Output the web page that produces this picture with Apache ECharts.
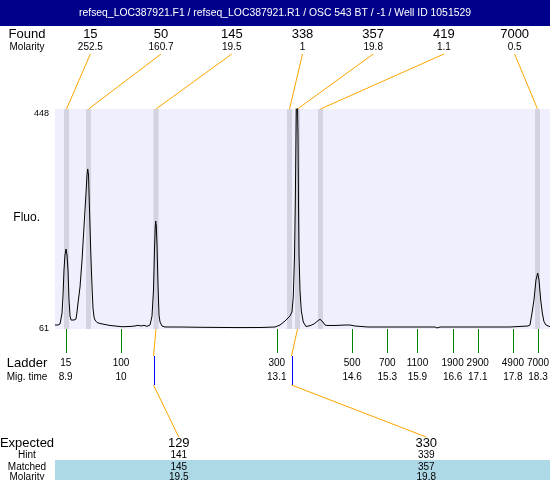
<!DOCTYPE html>
<html><head><meta charset="utf-8">
<script src="https://cdn.jsdelivr.net/npm/echarts@6/dist/echarts.min.js"></script>
<style>html,body{margin:0;padding:0;background:#fff}#c{width:550px;height:480px}</style>
</head><body><div id="c"></div>
<script>
const title = 'refseq_LOC387921.F1 / refseq_LOC387921.R1 / OSC 543 BT / -1 / Well ID 1051529';

// electropherogram trace: migration time (s) and fluorescence
const traceTime = [8.687,8.747,8.787,8.827,8.847,8.866,8.886,8.906,8.926,8.946,8.966,8.986,9.006,9.026,9.065,9.105,9.125,9.145,9.185,9.225,9.264,9.304,9.324,9.338,9.354,9.364,9.384,9.404,9.424,9.443,9.463,9.483,9.523,9.583,9.682,9.782,9.881,10.021,10.180,10.279,10.339,10.399,10.458,10.518,10.578,10.618,10.647,10.667,10.681,10.691,10.703,10.717,10.737,10.757,10.777,10.817,10.876,11.175,11.573,12.309,12.767,13.065,13.165,13.264,13.324,13.364,13.403,13.429,13.453,13.469,13.483,13.499,13.523,13.533,13.543,13.563,13.589,13.628,13.682,13.762,13.841,13.921,13.961,13.981,14.020,14.060,14.100,14.259,14.458,14.557,14.657,14.916,15.553,16.249,16.289,16.349,17.145,17.742,17.841,18.100,18.140,18.180,18.219,18.259,18.293,18.319,18.353,18.385,18.418,18.458,18.538];
const traceFluo = [68.0,68.0,69.8,89.1,120.8,164.8,191.2,201.7,191.2,164.8,112.0,83.9,76.8,76.8,76.8,78.6,90.9,106.7,134.9,182.4,240.4,300.2,331.9,342.5,331.9,300.2,240.4,182.4,134.9,97.9,82.1,76.8,72.4,70.7,68.9,67.2,66.3,65.0,65.4,66.3,67.5,66.3,67.5,65.7,68.0,83.9,129.6,200.0,238.7,251.0,242.2,208.8,138.4,85.6,73.3,66.3,64.5,64.5,64.0,63.5,63.6,64.5,68.0,75.1,80.4,83.9,90.9,117.3,187.7,280.9,398.7,530,398.7,280.9,192.9,127.8,92.7,73.3,65.4,66.8,69.8,75.6,78.1,78.6,73.3,68.0,67.2,67.2,68.0,68.0,66.3,64.5,64.5,64.5,62.8,64.5,64.5,64.5,65.0,66.3,68.0,89.1,112.0,147.2,159.5,147.2,112.0,89.1,73.8,68.0,65.0];

// found peaks
const peakTime = [8.916, 9.354, 10.697, 13.354, 13.513, 13.971, 18.289];
const peakSize = ['15','50','145','338','357','419','7000'];
const peakMolarity = ['252.5','160.7','19.5','1','19.8','1.1','0.5'];

// ladder
const ladderTime = [8.9, 10, 13.1, 14.6, 15.3, 15.9, 16.6, 17.1, 17.8, 18.3];
const ladderSize = ['15','100','300','500','700','1100','1900','2900','4900','7000'];

// expected / matched
const matchPeakTime = [10.697, 13.513];
const hintTime = [10.637, 13.384];
const expectedSize = ['129','330'];
const hintSize = ['141','339'];
const matchedSize = ['145','357'];
const matchedMolarity = ['19.5','19.8'];

const yTicks = [61, 448];

const FONT = '"Liberation Sans", Arial, sans-serif';
const ORANGE = '#ffa500', GREEN = '#008000', BLUE = '#0000ff', BAND = '#d3d3e1';

function txt(x, y, text, size, color) {
  return {type:'text', x:x, y:y, style:{text:text, fill:color||'#000', fontSize:size, fontFamily:FONT, align:'center', verticalAlign:'middle'}};
}
function ln(x1, y1, x2, y2, c) {
  return {type:'line', shape:{x1:x1, y1:y1, x2:x2, y2:y2}, style:{stroke:c, lineWidth:1}};
}
// crisp 1px vertical rule
function vr(x, y1, y2, c) {
  return {type:'rect', shape:{x:Math.round(x), y:y1, width:1, height:y2 - y1}, style:{fill:c}};
}

const chart = echarts.init(document.getElementById('c'));
chart.setOption({
  animation: false,
  backgroundColor: '#fff',
  grid: {left:55, right:0, top:109, bottom:151, show:true, backgroundColor:'#efeffd', borderWidth:0, outerBoundsMode:'none'},
  xAxis: {type:'value', min:8.687, max:18.538, show:false},
  yAxis: {type:'value', min:61, max:448,
    splitLine:{show:false}, axisLine:{show:false}, axisTick:{show:false},
    axisLabel:{customValues:yTicks, fontSize:9, color:'#000', margin:6, fontFamily:FONT, verticalAlignMaxLabel:'top'}},
  graphic: [
    {type:'rect', shape:{x:0, y:0, width:550, height:26}, style:{fill:'#00008b'}, z:0},
    {type:'text', x:275, y:13, style:{text:title, fill:'#fff', fontSize:10.4, fontFamily:FONT, align:'center', verticalAlign:'middle'}, z:1},
    {type:'rect', shape:{x:55, y:460, width:495, height:20}, style:{fill:'#add8e6'}, z:0},
    {type:'text', x:40, y:218, style:{text:'Fluo.', fill:'#000', fontSize:12, fontFamily:FONT, align:'right', verticalAlign:'middle'}, z:1},
    Object.assign(txt(27, 34, 'Found', 13), {z:1}),
    Object.assign(txt(27, 47, 'Molarity', 10), {z:1}),
    Object.assign(txt(27, 363, 'Ladder', 13), {z:1}),
    Object.assign(txt(27, 377, 'Mig. time', 10), {z:1}),
    Object.assign(txt(27, 443, 'Expected', 13), {z:1}),
    Object.assign(txt(27, 455, 'Hint', 10), {z:1}),
    Object.assign(txt(27, 467, 'Matched', 10), {z:1}),
    Object.assign(txt(27, 477, 'Molarity', 10), {z:1})
  ],
  series: [
    {
      type:'custom', z:1, silent:true,
      data: peakTime.map(t => [t]),
      encode:{x:0},
      renderItem: function (params, api) {
        const cs = params.coordSys, i = params.dataIndex, n = peakTime.length;
        const x = api.coord([api.value(0), 61])[0];
        const lx = cs.x + cs.width * (2 * i + 1) / (2 * n);
        return {type:'group', children:[
          {type:'rect', shape:{x:x - 2.5, y:cs.y, width:5, height:cs.height}, style:{fill:BAND}},
          ln(lx, 54, x, cs.y, ORANGE),
          txt(lx, 34, peakSize[i], 13),
          txt(lx, 47, peakMolarity[i], 10)
        ]};
      }
    },
    {
      type:'custom', z:1, silent:true,
      data: ladderTime.map(t => [t]),
      encode:{x:0},
      renderItem: function (params, api) {
        const cs = params.coordSys, i = params.dataIndex;
        const x = api.coord([api.value(0), 61])[0];
        const b = cs.y + cs.height;
        return {type:'group', children:[
          vr(x, b, b + 24, GREEN),
          txt(x, 363, ladderSize[i], 10),
          txt(x, 377, String(ladderTime[i]), 10)
        ]};
      }
    },
    {
      type:'custom', z:4, silent:true,
      data: matchPeakTime.map((t, i) => [t, hintTime[i]]),
      encode:{x:[0, 1]},
      renderItem: function (params, api) {
        const cs = params.coordSys, i = params.dataIndex, n = matchPeakTime.length;
        const p = api.coord([api.value(0), 61])[0];
        const h = Math.round(api.coord([api.value(1), 61])[0]) + 0.5;
        const cx = cs.x + cs.width * (2 * i + 1) / (2 * n);
        const b = cs.y + cs.height;
        return {type:'group', children:[
          ln(p, b, h, 356, ORANGE),
          vr(h, 356, 385, BLUE),
          ln(h, 385, cx, 437, ORANGE),
          txt(cx, 443, expectedSize[i], 13),
          txt(cx, 455, hintSize[i], 10),
          txt(cx, 467, matchedSize[i], 10),
          txt(cx, 477, matchedMolarity[i], 10)
        ]};
      }
    },
    {
      type:'line', z:3, silent:true, clip:true,
      data: traceTime.map((t, i) => [t, traceFluo[i]]),
      showSymbol:false, symbol:'none',
      lineStyle:{color:'#000', width:1}
    }
  ]
});
</script>
</body></html>
